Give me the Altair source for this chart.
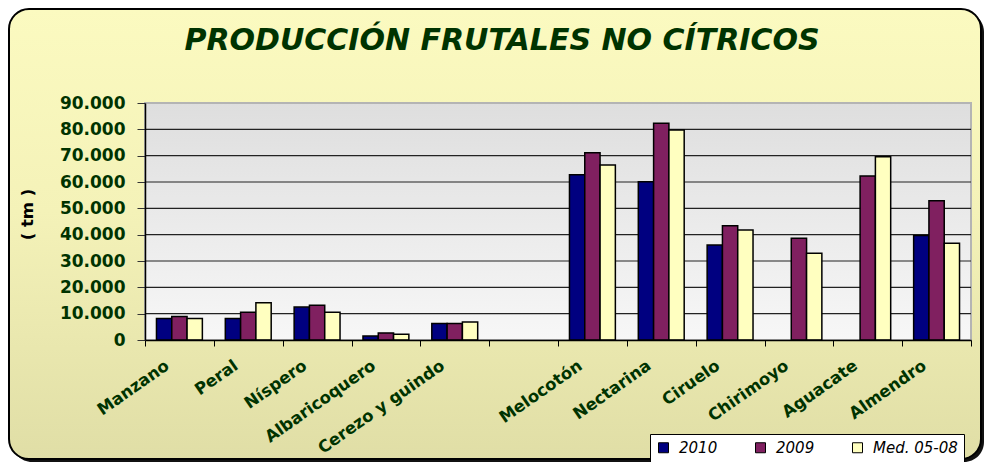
import altair as alt
import pandas as pd

# ---------------- data ----------------
categories = ["Manzano", "Peral", "Níspero", "Albaricoquero", "Cerezo y guindo", " ",
              "Melocotón", "Nectarina", "Ciruelo", "Chirimoyo", "Aguacate", "Almendro"]
series = ["2010", "2009", "Med. 05-08"]
v2010 = [8200, 8200, 12500, 1500, 6300, None, 62800, 60100, 36100, None, None, 39700]
v2009 = [8900, 10500, 13200, 2700, 6300, None, 71100, 82300, 43400, 38600, 62300, 52900]
vmed = [8200, 14100, 10500, 2150, 6800, None, 66500, 79700, 41800, 32900, 69600, 36700]
colors = ["#000080", "#802060", "#FFFFC0"]
y_ticks = [0, 10000, 20000, 30000, 40000, 50000, 60000, 70000, 80000, 90000]
grid_values = [10000, 20000, 30000, 40000, 50000, 60000, 70000, 80000]
title_text = "PRODUCCIÓN FRUTALES NO CÍTRICOS"
y_title = "( tm )"

rows = []
for s, vals in zip(series, [v2010, v2009, vmed]):
    for c, v in zip(categories, vals):
        if v is not None:
            rows.append({"cat": c, "serie": s, "valor": v})
df = pd.DataFrame(rows)
grid_df = pd.DataFrame({"valor": grid_values})
one = pd.DataFrame({"a": [0]})

W, H = 826, 237
PL, PT = 137, 95

green = "#003300"
FONT = "DejaVu Sans"

yscale = alt.Scale(domain=[0, 90000], nice=False, zero=True)
yaxis = alt.Axis(title=y_title, zindex=1, values=y_ticks, format=",.0f",
                 labelExpr="replace(datum.label, ',', '.')",
                 grid=False, tickSize=8, tickColor="#333333",
                 domainColor="black", domainWidth=1.5, labelPadding=12,
                 labelFont=FONT, labelFontWeight="bold", labelFontSize=17,
                 labelColor=green, titleFont=FONT, titleFontWeight="bold",
                 titleFontSize=16.5, titleColor="black", titleAngle=270,
                 titleX=-118, titleY=111, titleAlign="center",
                 titleBaseline="middle")

bg_grad = alt.LinearGradient(
    gradient="linear", x1=0, x2=0, y1=0, y2=1,
    stops=[alt.GradientStop(color="#FBFAC0", offset=0),
           alt.GradientStop(color="#F4F2B8", offset=0.45),
           alt.GradientStop(color="#E0DEA6", offset=1)])
plot_grad = alt.LinearGradient(
    gradient="linear", x1=0, x2=0, y1=0, y2=1,
    stops=[alt.GradientStop(color="#DEDEDE", offset=0),
           alt.GradientStop(color="#F7F7F7", offset=1)])

shadow = alt.Chart(one).mark_rect(cornerRadius=20, fill="#111111").encode(
    x=alt.value(-133), x2=alt.value(839), y=alt.value(-91), y2=alt.value(359))

bg = alt.Chart(one).mark_rect(cornerRadius=20, fill=bg_grad, stroke="black", strokeWidth=2).encode(
    x=alt.value(-136), x2=alt.value(836), y=alt.value(-94), y2=alt.value(356))

plot_bg = alt.Chart(one).mark_rect(fill=plot_grad, stroke="#B4B4B4", strokeWidth=2).encode(
    x=alt.value(0), x2=alt.value(W), y=alt.value(0), y2=alt.value(H))

rules = alt.Chart(grid_df).mark_rule(color="#222222", strokeWidth=1.2).encode(
    y=alt.Y("valor:Q", scale=yscale, axis=yaxis))

bars = alt.Chart(df).mark_bar(stroke="black", strokeWidth=1.5).encode(
    x=alt.X("cat:N", sort=categories,
            scale=alt.Scale(domain=categories, paddingInner=0, paddingOuter=0),
            axis=alt.Axis(title=None, zindex=1, labelAngle=325, labelAlign="right",
                          labelBaseline="top", labelPadding=11, labelOffset=-17,
                          labelFont=FONT, labelFontWeight="bold", labelFontSize=16.5,
                          labelColor=green, tickBand="extent", tickSize=6,
                          tickColor="black", domainColor="black", domainWidth=1.5,
                          labelLimit=300)),
    xOffset=alt.XOffset("serie:N", sort=series,
                        scale=alt.Scale(domain=series, paddingInner=0, paddingOuter=0.75)),
    y=alt.Y("valor:Q", scale=yscale, axis=yaxis),
    color=alt.Color("serie:N", sort=series,
                    scale=alt.Scale(domain=series, range=colors),
                    legend=alt.Legend(orient="none", legendX=505, legendY=331,
                                      direction="horizontal", title=None,
                                      fillColor="white", strokeColor="black",
                                      padding=6, symbolType="square", symbolSize=100,
                                      symbolStrokeColor="black", symbolStrokeWidth=1,
                                      symbolOpacity=1, labelFont=FONT,
                                      labelFontStyle="italic", labelFontSize=15,
                                      labelColor="black", columnPadding=35,
                                      labelOffset=8)),
)

title = alt.Chart(one).mark_text(
    text=title_text, font=FONT, fontSize=30, fontStyle="italic", fontWeight="bold",
    color=green, align="center", baseline="alphabetic").encode(
    x=alt.value(357), y=alt.value(-53))

chart = alt.layer(shadow, bg, plot_bg, rules, bars, title).properties(
    width=W, height=H,
    padding={"left": PL, "top": PT, "right": 13, "bottom": 122},
    autosize=alt.AutoSizeParams(type="none"),
    background="white",
).configure_view(stroke=None)

chart.save("out.html", embed_options={"renderer": "svg", "actions": False})
